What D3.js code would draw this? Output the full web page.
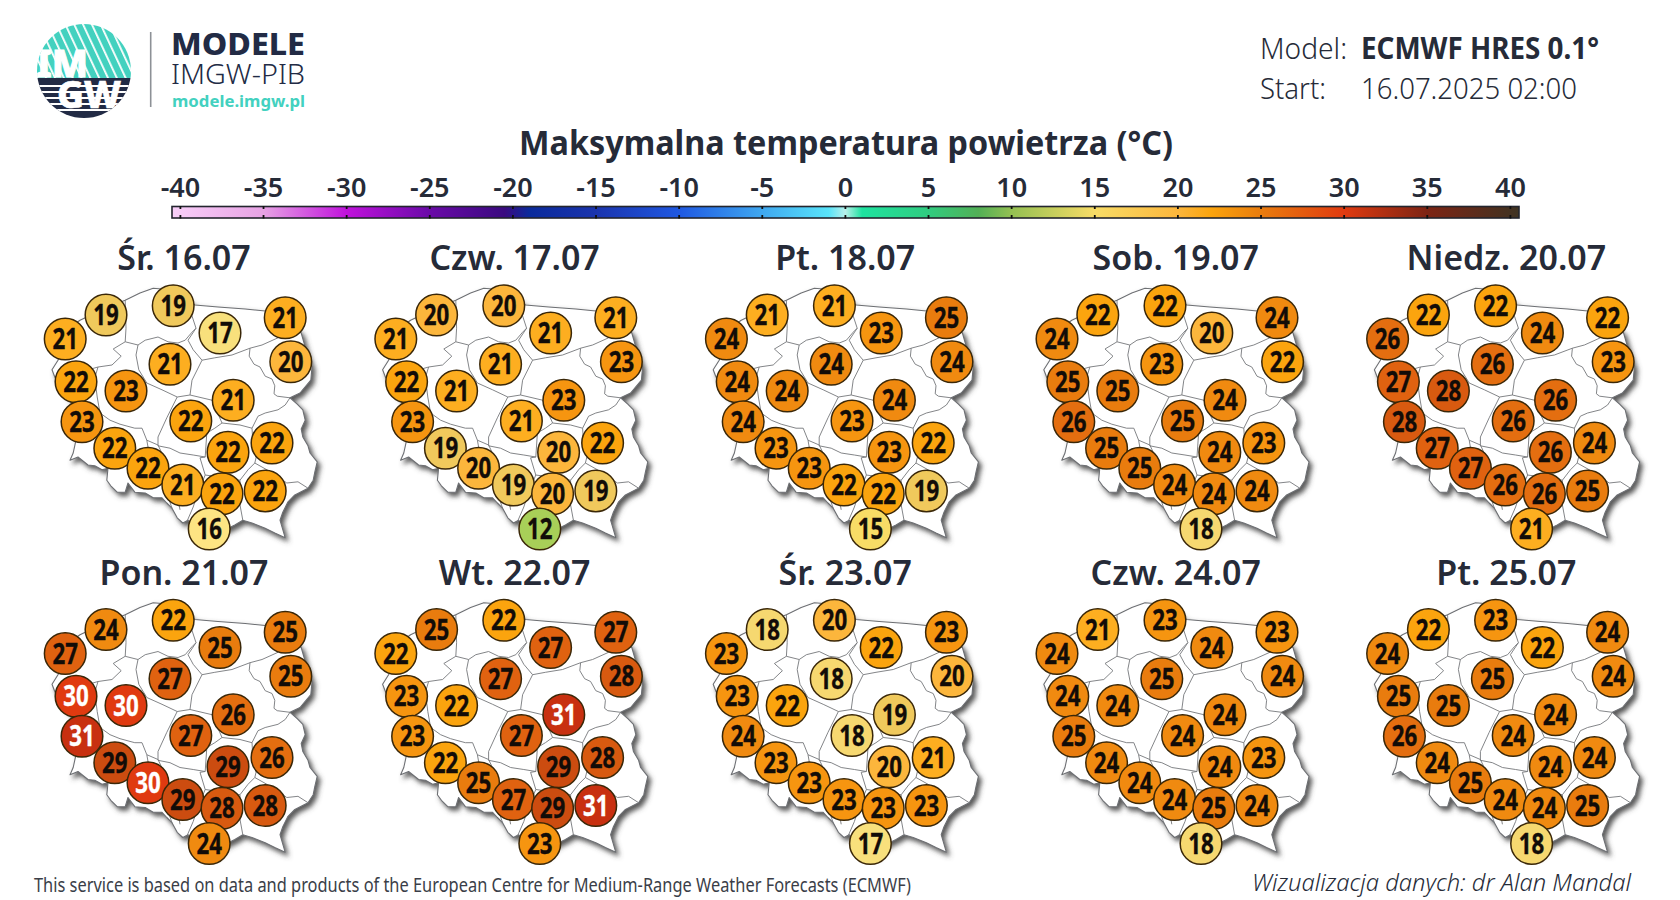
<!DOCTYPE html>
<html lang="pl"><head><meta charset="utf-8">
<script src="https://cdn.jsdelivr.net/npm/d3@7"></script>
<style>
html,body{margin:0;padding:0;background:#fff;overflow:hidden}
svg{display:block}
text{font-family:"Noto Sans","Open Sans",sans-serif}
</style></head><body>
<script>
// ---------- data ----------
const dayTitles = ["Śr. 16.07","Czw. 17.07","Pt. 18.07","Sob. 19.07","Niedz. 20.07",
                   "Pon. 21.07","Wt. 22.07","Śr. 23.07","Czw. 24.07","Pt. 25.07"];
// station location, kilometres east / north of the map's south-west corner
const stationEast  = [38,140,308,425,588,602,65,190,300,458,80,352,162,445,555,245,332,430,538,398];
const stationNorth = [515,575,598,530,568,458,408,385,452,362,308,310,242,232,255,192,150,128,135,40];
const temp1607 = [21,19,19,17,21,20,22,23,21,21,23,22,22,22,22,22,21,22,22,16];
const temp1707 = [21,20,20,21,21,23,22,21,21,23,23,21,19,20,22,20,19,20,19,12];
const temp1807 = [24,21,21,23,25,24,24,24,24,24,24,23,23,23,22,23,22,22,19,15];
const temp1907 = [24,22,22,20,24,22,25,25,23,24,26,25,25,24,23,25,24,24,24,18];
const temp2007 = [26,22,22,24,22,23,27,28,26,26,28,26,27,26,24,27,26,26,25,21];
const temp2107 = [27,24,22,25,25,25,30,30,27,26,31,27,29,29,26,30,29,28,28,24];
const temp2207 = [22,25,22,27,27,28,23,22,27,31,23,27,22,29,28,25,27,29,31,23];
const temp2307 = [23,18,20,22,23,20,23,22,18,19,24,18,23,20,21,23,23,23,23,17];
const temp2407 = [24,21,23,24,23,24,24,24,25,24,25,24,24,24,23,24,24,25,24,18];
const temp2507 = [24,22,23,22,24,24,25,25,25,24,26,24,24,24,24,25,24,24,25,18];
const allTemps = [temp1607,temp1707,temp1807,temp1907,temp2007,temp2107,temp2207,temp2307,temp2407,temp2507];

const legendTicks = [-40,-35,-30,-25,-20,-15,-10,-5,0,5,10,15,20,25,30,35,40];
const colorStops  = [-40.5,-35,-30,-25,-20.5,-19,-15,-10,-5,-1,0,1,5,8,10,12,15,16,17,18,19,20,21,22,23,24,25,26,27,28,29,30,31,35,40.5];
const colorValues = ["#f8cff8","#e7a2e4","#c012dc","#6a0aa8","#3a0a80","#0a2a9c","#1a34ae","#1f58e2","#3fa8f0","#58e4fa","#b8f0ea","#1ee3a0","#30cc80","#52b056","#94c052","#a8cf58","#f8dc66","#fde483","#f8e07c","#f6d870","#f0c95c","#fcb63c","#fdae20","#fba40e","#f69510","#f08a10","#e97c0e","#e46e10","#e06210","#d85a10","#cc4c10","#e03a10","#c83010","#7d2414","#3f3322"];

// outline of the country and internal borders, km east / north of the SW corner
const countryEast  = [42,75,138,188,225,258,300,338,362,420,488,538,588,628,638,655,652,625,600,618,632,638,628,632,645,650,668,662,658,645,612,595,582,575,588,562,538,505,482,462,438,412,375,345,332,318,305,292,280,258,238,212,195,188,168,152,142,145,130,112,95,70,50,58,65,55,62,50,25,12,5,20,30];
const countryNorth = [538,562,592,612,630,642,638,618,600,595,590,585,568,530,495,445,412,380,368,352,338,312,290,270,248,230,208,182,162,142,125,108,82,62,18,30,42,55,62,50,38,12,25,62,55,68,92,105,118,118,130,132,155,132,132,148,162,192,188,198,200,220,212,230,262,300,335,362,400,420,438,462,488];
const borderLines = [
 [[188,612],[190,542],[188,508],[158,490],[178,472],[155,450],[120,445],[112,418],[118,370],[125,330],[150,312],[175,302],[212,292],[230,292],[242,262],[245,245],[270,188],[298,112],[305,92]],
 [[125,330],[88,300],[55,300]],
 [[120,445],[75,432],[12,420]],
 [[188,508],[220,500],[238,512],[270,520],[295,508],[320,505],[338,512],[355,532],[365,542]],
 [[350,588],[365,542],[345,512],[358,488],[380,462],[412,468],[455,475],[500,492],[530,500],[570,518],[600,550],[595,582]],
 [[220,500],[215,475],[222,438],[242,405],[280,388],[318,370],[350,375],[405,362],[430,305],[412,292],[392,280],[388,220]],
 [[380,462],[355,412],[350,375]],
 [[318,370],[292,318],[270,270],[270,248],[300,242],[325,230],[358,225],[388,220],[375,218],[388,175],[370,132],[358,95],[342,58]],
 [[242,262],[270,250],[312,162],[325,88]],
 [[430,305],[475,300],[505,292],[520,322],[538,330],[570,338],[588,350],[600,368]],
 [[505,292],[508,245],[518,230],[512,205],[495,188],[475,162],[438,168],[388,175]],
 [[512,205],[560,178],[592,155],[620,158],[645,142]],
 [[500,492],[498,472],[510,452],[525,445],[538,422],[555,415],[562,398],[560,378],[568,372],[600,368]],
 [[475,162],[475,100],[482,62]]
];

// ---------- drawing ----------
const W = 1680, H = 900, INK = "#262b38", TEAL = "#43d1bf", NAVY = "#222b45";
const svg = d3.select("body").append("svg").attr("width",W).attr("height",H).attr("viewBox",`0 0 ${W} ${H}`);
const defs = svg.append("defs");

const color = d3.scaleLinear().domain(colorStops).range(colorValues).clamp(true);
const legendX = d3.scaleLinear().domain([-40,40]).range([180.4,1510.4]);

// soft shadow of the country
const shadow = defs.append("filter").attr("id","mapShadow").attr("x","-15%").attr("y","-15%").attr("width","130%").attr("height","130%");
shadow.append("feDropShadow").attr("dx",3).attr("dy",3.5).attr("stdDeviation",2.4).attr("flood-color","#444").attr("flood-opacity",.9);

// legend gradient
const barLeft = 172, barRight = 1519;
const grad = defs.append("linearGradient").attr("id","legendGrad").attr("gradientUnits","userSpaceOnUse")
  .attr("x1",barLeft).attr("x2",barRight).attr("y1",0).attr("y2",0);
colorStops.filter(v=>v<12||v>=15&&v%5==0||v==40.5||v==22||v==-40.5).forEach(v=>{
  grad.append("stop").attr("offset",(legendX(v)-barLeft)/(barRight-barLeft)).attr("stop-color",color(v));
});

// logo
const logo = svg.append("g");
defs.append("clipPath").attr("id","logoClip").append("circle").attr("cx",84).attr("cy",71).attr("r",47);
const hatch = defs.append("pattern").attr("id","hatch").attr("patternUnits","userSpaceOnUse")
  .attr("width",8).attr("height",8).attr("patternTransform","rotate(-25)");
hatch.append("rect").attr("width",8).attr("height",8).attr("fill",TEAL);
hatch.append("rect").attr("width",1.8).attr("height",8).attr("fill","#fff");
const lg = logo.append("g").attr("clip-path","url(#logoClip)");
lg.append("rect").attr("x",30).attr("y",20).attr("width",110).attr("height",58).attr("fill","url(#hatch)");
lg.append("rect").attr("x",30).attr("y",78).attr("width",110).attr("height",45).attr("fill",NAVY);
d3.range(5).forEach(i=>lg.append("rect").attr("x",30).attr("y",85+i*6).attr("width",110).attr("height",2).attr("fill","#fff"));
lg.append("text").text("IM").attr("x",36).attr("y",77).attr("font-size",37).attr("font-weight",800).attr("fill","#fff")
  .attr("stroke","#fff").attr("stroke-width",1).attr("textLength",52).attr("lengthAdjust","spacingAndGlyphs");
lg.append("text").text("GW").attr("x",57).attr("y",108).attr("font-size",37).attr("font-weight",800).attr("fill","#fff")
  .attr("stroke","#fff").attr("stroke-width",.6).attr("textLength",64).attr("lengthAdjust","spacingAndGlyphs");
logo.append("line").attr("x1",150.7).attr("x2",150.7).attr("y1",32).attr("y2",107).attr("stroke","#8d9196").attr("stroke-width",1.6);

function label(txt,x,y,size,weight,fill,len,anchor){
  const t = svg.append("text").text(txt).attr("x",x).attr("y",y).attr("font-size",size)
    .attr("font-weight",weight).attr("fill",fill).attr("text-anchor",anchor||"start");
  if(len) t.attr("textLength",len).attr("lengthAdjust","spacingAndGlyphs");
  return t;
}
label("MODELE",171,55,31,800,NAVY,134);
label("IMGW-PIB",171,84,28,300,NAVY,134);
label("modele.imgw.pl",172,107,16,700,TEAL,133);

label("Model:",1260,59,30,300,INK,87);
label("ECMWF HRES 0.1°",1361,59,30,700,INK,238);
label("Start:",1260,98.5,30,300,INK,66);
label("16.07.2025 02:00",1361,98.5,30,300,INK,216);

label("Maksymalna temperatura powietrza (°C)",846,155,34,700,INK,654,"middle");

// legend
svg.append("rect").attr("x",barLeft).attr("y",206.5).attr("width",barRight-barLeft).attr("height",11.5)
  .attr("fill","url(#legendGrad)").attr("stroke","#23252e").attr("stroke-width",1.6);
const legendG = svg.append("g");
legendTicks.forEach(v=>{
  const x = legendX(v);
  label(String(v),x,197,27,600,INK,null,"middle");
  legendG.append("line").attr("x1",x).attr("x2",x).attr("y1",206).attr("y2",209).attr("stroke","#111").attr("stroke-width",1.8);
  legendG.append("line").attr("x1",x).attr("x2",x).attr("y1",215).attr("y2",218.5).attr("stroke","#111").attr("stroke-width",1.8);
});

// small multiples
const mapX = d3.scaleLinear().domain([0,680]).range([50,322]);
const mapY = d3.scaleLinear().domain([0,640]).range([545,289]);
const lineGen = d3.line().x(d=>mapX(d[0])).y(d=>mapY(d[1]));
const countryPoints = d3.zip(countryEast,countryNorth);
const panelStep = 330.6, rowStep = 314.5;

dayTitles.forEach((title,i)=>{
  const col = i%5, row = Math.floor(i/5);
  const dx = col*panelStep, dy = row*rowStep;
  label(title,184+dx,270+dy,34,600,INK,null,"middle");
  const g = svg.append("g").attr("transform",`translate(${dx},${dy})`);
  g.append("path").attr("d",lineGen(countryPoints)+"Z").attr("fill","#fff").attr("stroke","#6d6f73")
    .attr("stroke-width",1.1).attr("stroke-linejoin","round").attr("filter","url(#mapShadow)");
  g.selectAll("path.border").data(borderLines).join("path").attr("class","border")
    .attr("d",lineGen).attr("fill","none").attr("stroke","#75777b").attr("stroke-width",.9).attr("stroke-linejoin","round");
  const st = g.selectAll("g.st").data(allTemps[i]).join("g").attr("class","st")
    .attr("transform",(d,k)=>`translate(${mapX(stationEast[k])},${mapY(stationNorth[k])})`);
  st.append("circle").attr("r",20.8).attr("fill",d=>color(d)).attr("stroke","#3a2708").attr("stroke-width",1.5);
  st.append("text").text(d=>d).attr("text-anchor","middle").attr("y",10).attr("font-size",28).attr("font-weight",700)
    .attr("fill",d=>d>=30?"#fff":"#120c08").attr("stroke",d=>d>=30?"#fff":"#120c08").attr("stroke-width",.35)
    .attr("textLength",25.5).attr("lengthAdjust","spacingAndGlyphs");
});

// footer
label("This service is based on data and products of the European Centre for Medium-Range Weather Forecasts (ECMWF)",34,892,19,400,"#3a3e48",877);
label("Wizualizacja danych: dr Alan Mandal",1252,891,24,300,INK,379).attr("font-style","italic");
</script>
</body></html>
